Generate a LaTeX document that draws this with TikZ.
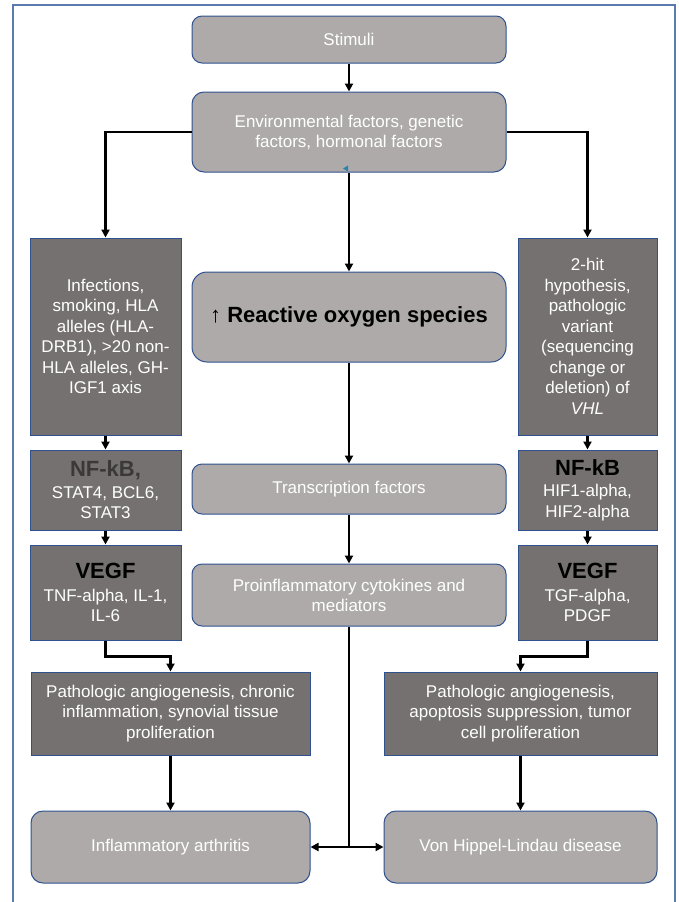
\documentclass[tikz,border=0pt]{standalone}
\usepackage{fontspec}
\setmainfont{Liberation Sans}
\usepackage{tikz}
\usetikzlibrary{arrows.meta,calc}
\definecolor{boxlight}{HTML}{AEAAAA}
\definecolor{boxdark}{HTML}{767171}
\definecolor{boxline}{HTML}{2F528F}
\definecolor{framecol}{HTML}{5A7AB0}
\definecolor{nfkbgray}{HTML}{3B3838}
\newcommand{\boxhead}[2][black]{{\fontsize{22}{24}\selectfont\bfseries\color{#1}#2}}
\tikzstyle{arrow} = [line width=2.4pt, -{Triangle[length=8pt,width=8pt]}]
\tikzstyle{lightbox} = [draw=boxline, line width=1pt, fill=boxlight, rounded corners=10pt, text=white, align=center, inner sep=0pt, font=\fontsize{17}{20}\selectfont]
\tikzstyle{darkbox} = [draw=boxline, line width=1pt, fill=boxdark, text=white, align=center, inner sep=0pt, font=\fontsize{17}{20.5}\selectfont]

\begin{document}
\begin{tikzpicture}[x=1pt,y=-1pt]
    \useasboundingbox (0,0) rectangle (678,902);
    \draw[framecol,line width=2pt] (13,902) -- (13,5) -- (675,5) -- (675,902);

    % middle column
    \node[lightbox,minimum width=314pt,minimum height=47pt] (stim) at (349,39.5) {Stimuli};
    \node[lightbox,minimum width=314pt,minimum height=80pt,rounded corners=12pt] (env) at (349,132)
        {Environmental factors, genetic\\ factors, hormonal factors};
    \node[lightbox,minimum width=314pt,minimum height=90pt,rounded corners=15pt,text=black] (ros) at (349,317)
        {\fontsize{22}{26}\selectfont ↑ \textbf{Reactive oxygen species}};
    \node[lightbox,minimum width=314pt,minimum height=50pt] (tf) at (349,489) {Transcription factors};
    \node[lightbox,minimum width=314pt,minimum height=62pt] (pro) at (349,595)
        {Proinflammatory cytokines and\\ mediators};

    % left column
    \node[darkbox,minimum width=151pt,minimum height=197pt] (l1) at (105.5,336.5)
        {Infections,\\ smoking, HLA\\ alleles (HLA-\\ DRB1), >20 non-\\ HLA alleles, GH-\\ IGF1 axis};
    \node[darkbox,minimum width=151pt,minimum height=80pt] (l2) at (105.5,490)
        {\boxhead[nfkbgray]{NF-kB,}\\[1pt] STAT4, BCL6,\\ STAT3};
    \node[darkbox,minimum width=151pt,minimum height=95pt] (l3) at (105.5,592.5)
        {\boxhead{VEGF}\\[2pt] TNF-alpha, IL-1,\\ IL-6};
    \node[darkbox,minimum width=279pt,minimum height=83pt] (l4) at (170.5,713.5)
        {Pathologic angiogenesis, chronic\\ inflammation, synovial tissue\\ proliferation};
    \node[lightbox,minimum width=279pt,minimum height=72pt,rounded corners=12pt] (ia) at (170.5,847)
        {Inflammatory arthritis};

    % right column
    \node[darkbox,minimum width=139pt,minimum height=197pt] (r1) at (587.5,336.5)
        {2-hit\\ hypothesis,\\ pathologic\\ variant\\ (sequencing\\ change or\\ deletion) of\\ \textit{VHL}};
    \node[darkbox,minimum width=139pt,minimum height=80pt] (r2) at (587.5,490)
        {\boxhead{NF-kB}\\[1pt] HIF1-alpha,\\ HIF2-alpha};
    \node[darkbox,minimum width=139pt,minimum height=95pt] (r3) at (587.5,592.5)
        {\boxhead{VEGF}\\[2pt] TGF-alpha,\\ PDGF};
    \node[darkbox,minimum width=273pt,minimum height=83pt] (r4) at (520.5,713.5)
        {Pathologic angiogenesis,\\ apoptosis suppression, tumor\\ cell proliferation};
    \node[lightbox,minimum width=273pt,minimum height=72pt,rounded corners=12pt] (vhl) at (520.5,847)
        {Von Hippel-Lindau disease};

    % small blue mark on the factors box
    \fill[boxline!70!cyan] ($(env.south)+(-1,-7)$) -- ++(0,6) -- ++(-5,-3) -- cycle;

    % connectors
    \draw[arrow] (stim) -- (env);
    \draw[arrow] (env.west) -| (l1.north);
    \draw[arrow] (env.east) -| (r1.north);
    \draw[arrow] (env) -- (ros);
    \draw[arrow] (ros) -- (tf);
    \draw[arrow] (tf) -- (pro);
    \draw[arrow] (l1) -- (l2);
    \draw[arrow] (l2) -- (l3);
    \draw[arrow] (l3.south) -- ++(0,16) -| (l4.north);
    \draw[arrow] (l4) -- (ia);
    \draw[arrow] (r1) -- (r2);
    \draw[arrow] (r2) -- (r3);
    \draw[arrow] (r3.south) -- ++(0,16) -| (r4.north);
    \draw[arrow] (r4) -- (vhl);
    \draw[arrow] (pro.south) |- (ia.east);
    \draw[arrow] (pro.south) |- (vhl.west);
\end{tikzpicture}
\end{document}
